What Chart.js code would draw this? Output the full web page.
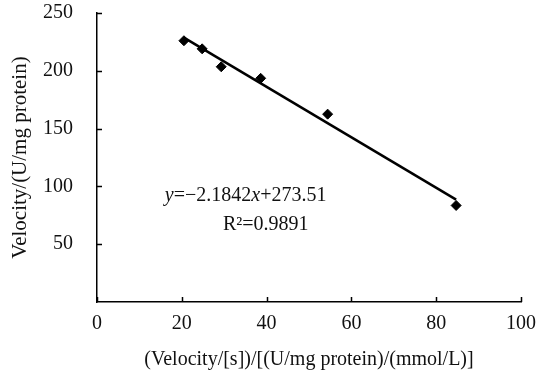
<!DOCTYPE html>
<html>
<head>
<meta charset="utf-8">
<script src="https://cdn.jsdelivr.net/npm/chart.js@4.4.1/dist/chart.umd.min.js"></script>
<style>
  html, body { margin: 0; padding: 0; background: #fff; }
  #wrap { width: 538px; height: 374px; }
</style>
</head>
<body>
<div id="wrap"><canvas id="chart" width="538" height="374"></canvas></div>
<script>
// Measured points (substrate velocity ratio vs velocity)
const pointsX = [20.5, 24.8, 29.3, 38.6, 54.4, 84.7];
const pointsY = [226, 219, 203.5, 193.5, 162.5, 83.5];

// Linear fit endpoints: y = -2.1842x + 273.51
const fitX = [20.5, 84.7];
const fitY = [228.7, 88.5];

const xTicks = [0, 20, 40, 60, 80, 100];
const yTicks = [50, 100, 150, 200, 250];

const serif = '"Liberation Serif", "DejaVu Serif", serif';
const textSize = 20;

// Inward tick marks, like the original figure
const innerTicks = {
  id: 'innerTicks',
  afterDraw(chart) {
    const { ctx, chartArea, scales } = chart;
    ctx.save();
    ctx.strokeStyle = '#000';
    ctx.lineWidth = 1.5;
    ctx.beginPath();
    xTicks.forEach((v) => {
      const px = Math.round(scales.x.getPixelForValue(v)) + 0.5;
      ctx.moveTo(px, chartArea.bottom);
      ctx.lineTo(px, chartArea.bottom - 5);
    });
    yTicks.forEach((v) => {
      const py = Math.round(scales.y.getPixelForValue(v)) + 0.5;
      ctx.moveTo(chartArea.left, py);
      ctx.lineTo(chartArea.left + 5, py);
    });
    ctx.stroke();
    ctx.restore();
  },
};

// Regression equation text
const equationLabel = {
  id: 'equationLabel',
  afterDraw(chart) {
    const { ctx, scales } = chart;
    const parts = [
      ['y', 'italic'],
      ['=\u22122.1842', 'normal'],
      ['x', 'italic'],
      ['+273.51', 'normal'],
    ];
    ctx.save();
    ctx.fillStyle = '#111';
    ctx.textBaseline = 'alphabetic';
    let x = scales.x.getPixelForValue(16);
    const y1 = scales.y.getPixelForValue(87);
    parts.forEach(([t, style]) => {
      ctx.font = style + ' ' + textSize + 'px ' + serif;
      ctx.fillText(t, x, y1);
      x += ctx.measureText(t).width;
    });
    ctx.font = textSize + 'px ' + serif;
    ctx.fillText('R\u00b2=0.9891', scales.x.getPixelForValue(29.7), scales.y.getPixelForValue(62));
    ctx.restore();
  },
};

new Chart(document.getElementById('chart'), {
  type: 'scatter',
  data: {
    datasets: [
      {
        label: 'fit',
        type: 'line',
        data: fitX.map((x, i) => ({ x, y: fitY[i] })),
        borderColor: '#000',
        borderWidth: 2.5,
        pointRadius: 0,
        fill: false,
      },
      {
        label: 'data',
        data: pointsX.map((x, i) => ({ x, y: pointsY[i] })),
        pointStyle: 'rectRot',
        pointRadius: 5,
        backgroundColor: '#000',
        borderColor: '#000',
        borderWidth: 1,
      },
    ],
  },
  options: {
    responsive: false,
    animation: false,
    layout: { padding: { top: 13, right: 17, left: 0, bottom: 0 } },
    plugins: {
      legend: { display: false },
      tooltip: { enabled: false },
    },
    scales: {
      x: {
        type: 'linear',
        min: 0,
        max: 100,
        afterFit: (s) => {
          s.height = 72;
          s.paddingLeft = 0;
          s.paddingRight = 0;
        },
        afterBuildTicks: (s) => { s.ticks = xTicks.map((v) => ({ value: v })); },
        grid: { display: false },
        border: { display: true, color: '#000', width: 1.5 },
        ticks: { color: '#111', font: { family: serif, size: textSize }, padding: 2 },
        title: {
          display: true,
          text: '(Velocity/[s])/[(U/mg protein)/(mmol/L)]',
          color: '#111',
          font: { family: serif, size: textSize },
          padding: { top: 0, bottom: 2 },
        },
      },
      y: {
        type: 'linear',
        min: 0,
        max: 250,
        afterFit: (s) => {
          s.width = 97;
          s.paddingTop = 0;
          s.paddingBottom = 0;
        },
        afterBuildTicks: (s) => { s.ticks = yTicks.map((v) => ({ value: v })); },
        grid: { display: false },
        border: { display: true, color: '#000', width: 1.5 },
        ticks: { color: '#111', font: { family: serif, size: textSize }, padding: 16 },
        title: {
          display: true,
          text: 'Velocity/(U/mg protein)',
          color: '#111',
          font: { family: serif, size: 21 },
          padding: { top: 8, bottom: 0 },
        },
      },
    },
  },
  plugins: [innerTicks, equationLabel],
});
</script>
</body>
</html>
